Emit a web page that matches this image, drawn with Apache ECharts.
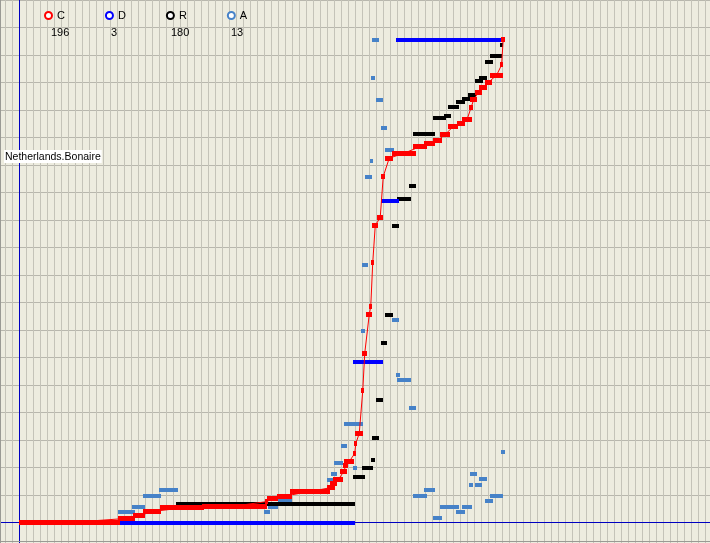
<!DOCTYPE html>
<html>
<head>
<meta charset="utf-8">
<script src="https://cdn.jsdelivr.net/npm/echarts@6/dist/echarts.min.js"></script>
<style>
  html, body { margin: 0; padding: 0; background: #edecdf; overflow: hidden; width: 710px; height: 543px; position: relative; }
  #chart { position: absolute; left: -2px; top: -1px; width: 712px; height: 551px; }
</style>
</head>
<body>
<div id="chart"></div>
<script>
// x: days from the origin, y: grid rows above the baseline (each series scaled to its own max)
var seriesNames = ["C", "D", "R", "A"];
var latestCounts = [196, 3, 180, 13];
var placeName = "Netherlands.Bonaire";

// [fromDay, toDay, level]
var confirmedSpans = [
  [0, 14.43, 0], [14.14, 16.57, 0.15], [16.29, 18, 0.25], [17.71, 20.29, 0.4],
  [20.14, 26.43, 0.53], [26.14, 35.43, 0.6], [35.14, 35.57, 0.76], [35.43, 37, 0.87],
  [36.86, 39, 0.96], [38.71, 44.43, 1.13], [44, 45.14, 1.27], [44.43, 45.43, 1.42],
  [44.86, 46.29, 1.56], [45.86, 46.86, 1.85], [46.29, 47, 2.07], [46.43, 47.86, 2.22],
  [47.71, 48.14, 2.51], [47.86, 48.29, 2.87], [48, 49.14, 3.24], [48.86, 49.29, 4.8],
  [49, 49.71, 6.15], [49.57, 50.43, 7.56], [50, 50.43, 7.85], [50.29, 50.71, 9.45],
  [50.43, 51.29, 10.8], [51.14, 52, 11.09], [51.71, 52.29, 12.58], [52.29, 53.43, 13.25],
  [53.29, 56.71, 13.43], [56.29, 58.29, 13.67], [57.86, 59.43, 13.77], [59.14, 60.43, 13.89],
  [60.14, 61.57, 14.11], [61.29, 62.71, 14.4], [62.57, 63.71, 14.5], [63.29, 64.71, 14.67],
  [64.29, 64.86, 15.1], [64.43, 65.43, 15.38], [65.14, 66.14, 15.65], [65.71, 66.86, 15.83],
  [66.57, 67.57, 16.01], [67.29, 69.14, 16.27], [68.71, 69.14, 16.64], [68.86, 69.43, 17.55]
];

var deathSpans = [
  [14.43, 48, 0], [47.71, 52, 5.84], [51.71, 54.29, 11.69], [53.86, 69, 17.53]
];

var recoveredSpans = [
  [22.43, 48, 0.67], [47.71, 49.43, 1.65], [49, 50.57, 2.0], [50.29, 50.86, 2.29],
  [50.43, 51.43, 3.09], [51, 52, 4.44], [51.71, 52.57, 6.51], [52.29, 53.43, 7.56],
  [53.29, 54.29, 10.8], [54, 56, 11.78], [55.71, 56.71, 12.25], [56.29, 59.43, 14.11],
  [59.14, 61, 14.7], [60.71, 61.71, 14.8], [61.29, 62.86, 15.1], [62.43, 63.71, 15.28],
  [63.29, 64.43, 15.41], [64.14, 65.29, 15.56], [65.14, 66.29, 16.07], [65.71, 66.86, 16.17],
  [66.57, 67.71, 16.74], [67.29, 69, 16.96], [68.71, 69.14, 17.35]
];

var activeSpans = [
  [14.14, 16.57, 0.37], [16.14, 18, 0.56], [17.71, 20.29, 0.96], [20, 22.71, 1.17],
  [35, 35.86, 0.37], [35.57, 37, 0.56], [37, 39, 0.77], [44, 44.86, 1.56],
  [44.57, 45.43, 1.75], [45, 46.29, 2.16], [46, 46.86, 2.77], [47.71, 48.29, 1.98],
  [46.43, 49.14, 3.59], [48.86, 49.43, 6.96], [49, 49.86, 9.36], [49.43, 50.43, 12.57],
  [50.14, 50.57, 13.14], [53.29, 54.29, 7.35], [53.86, 54.43, 5.36], [54, 56, 5.17],
  [55.71, 56.71, 4.16], [50.43, 51.43, 17.53], [50.29, 50.86, 16.16], [51, 52, 15.35],
  [51.71, 52.57, 14.34], [52.29, 53.57, 13.55], [68.86, 69.43, 2.55], [64.43, 65.43, 1.76],
  [65.71, 66.86, 1.57], [64.29, 64.86, 1.36], [65.14, 66.14, 1.36], [57.86, 59.43, 1.17],
  [67.29, 69.14, 0.96], [56.29, 58.29, 0.96], [66.57, 67.71, 0.77], [60.14, 62.86, 0.56],
  [63.29, 64.71, 0.56], [62.43, 63.71, 0.37], [59.14, 60.43, 0.16]
];

var colors = { C: "#ff0000", D: "#0000ff", R: "#000000", A: "#4682c8" };
var axisBlue = "#0000c0";
var font = "Liberation Sans";
// the chart div sits 2px left / 1px up so the grid can run past the window edges
var offX = 2, offY = 1;

function spanRenderer(thickness) {
  return function (params, api) {
    var a = api.coord([api.value(0), api.value(2)]);
    var b = api.coord([api.value(1), api.value(2)]);
    var x = Math.round(a[0]);
    return {
      type: "rect",
      shape: {
        x: x,
        y: Math.round(a[1] - thickness / 2),
        width: Math.max(2, Math.round(b[0]) - x),
        height: thickness
      },
      style: { fill: api.visual("color") }
    };
  };
}

function spanSeries(name, data, thickness) {
  return {
    name: name,
    type: "custom",
    renderItem: spanRenderer(thickness),
    encode: { x: [0, 1], y: 2 },
    itemStyle: { color: colors[name] },
    data: data,
    clip: false,
    silent: true,
    z: 5
  };
}

// crosshair axes through the origin, snapped to whole pixels
function axesRenderer(params, api) {
  var o = api.coord([api.value(0), api.value(1)]);
  var cs = params.coordSys;
  return {
    type: "group",
    children: [
      { type: "rect", shape: { x: Math.floor(o[0]), y: cs.y, width: 1, height: cs.height }, style: { fill: axisBlue } },
      { type: "rect", shape: { x: cs.x, y: Math.floor(o[1]), width: cs.width, height: 1 }, style: { fill: axisBlue } }
    ]
  };
}

// thin connector through the middle of every confirmed span
var confirmedTrail = confirmedSpans.map(function (s) {
  return [(s[0] + s[1]) / 2, s[2]];
});

var countLabels = latestCounts.map(function (v, i) {
  return {
    type: "text",
    left: offX + 51 + i * 60,
    top: offY + 27,
    z: 100,
    style: { text: String(v), fill: "#000", font: "11px " + font }
  };
});

var frame = [
  { type: "rect", z: 100, shape: { x: offX, y: offY, width: 1, height: 543 }, style: { fill: "#9a9a94" } },
  { type: "rect", z: 100, shape: { x: offX, y: offY + 541, width: 710, height: 1 }, style: { fill: "#9a9a94" } }
];

var chart = echarts.init(document.getElementById("chart"));

chart.setOption({
  animation: false,
  backgroundColor: "#edecdf",
  textStyle: { fontFamily: font },
  title: {
    text: placeName,
    left: offX + 4,
    top: offY + 150,
    padding: [1, 1, 0, 1],
    backgroundColor: "#ffffff",
    textStyle: { fontSize: 10.5, fontWeight: "normal", color: "#000", fontFamily: font, lineHeight: 12 }
  },
  legend: {
    left: offX + 39,
    top: offY + 5,
    itemWidth: 7,
    itemHeight: 7,
    itemGap: 40,
    selectedMode: false,
    textStyle: { fontSize: 11, color: "#000", fontFamily: font },
    data: seriesNames.map(function (n) {
      return {
        name: n,
        icon: "circle",
        itemStyle: { color: "#ffffff", borderColor: colors[n], borderWidth: 2 }
      };
    })
  },
  graphic: countLabels.concat(frame),
  grid: { left: 0.5, right: 0, top: 1, bottom: 0 },
  xAxis: {
    type: "value",
    min: -3,
    max: 98.714,
    interval: 1,
    z: 0,
    axisLine: { show: false },
    axisTick: { show: false },
    axisLabel: { show: false },
    splitLine: { show: true, lineStyle: { color: "#c4c3b8", width: 1 } }
  },
  yAxis: {
    type: "value",
    min: -1,
    max: 19,
    interval: 1,
    z: 0,
    axisLine: { show: false },
    axisTick: { show: false },
    axisLabel: { show: false },
    splitLine: { show: true, lineStyle: { color: "#b8b7ad", width: 1 } }
  },
  series: [
    {
      name: "axes",
      type: "custom",
      renderItem: axesRenderer,
      data: [[0, 0]],
      clip: false,
      silent: true,
      z: 1
    },
    spanSeries("A", activeSpans, 4),
    spanSeries("R", recoveredSpans, 4),
    spanSeries("D", deathSpans, 4),
    spanSeries("C", confirmedSpans, 5),
    {
      name: "C trail",
      type: "line",
      data: confirmedTrail,
      showSymbol: false,
      silent: true,
      lineStyle: { color: colors.C, width: 1 },
      itemStyle: { color: colors.C },
      z: 6
    }
  ]
});
</script>
</body>
</html>
